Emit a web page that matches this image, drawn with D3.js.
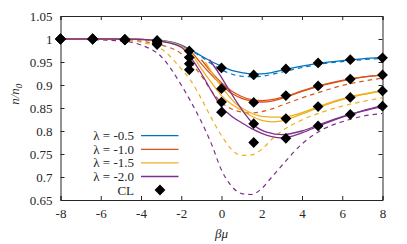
<!DOCTYPE html>
<html>
<head>
<meta charset="utf-8">
<script src="https://cdn.jsdelivr.net/npm/d3@7"></script>
<style>
  body { margin: 0; background: #fff; }
</style>
</head>
<body>
<svg id="chart"></svg>
<script>
// grid for the full curves (beta*mu)
const gridX = [-8, -5, -4, -3, -2, -1.5, -1, -0.5, 0, 0.5, 1, 1.5, 2, 2.5, 3, 4, 5, 6, 7, 8];

const blueSolid   = [1, 1, 0.999, 0.997, 0.987, 0.976, 0.963, 0.951, 0.941, 0.932, 0.927, 0.924, 0.924, 0.927, 0.932, 0.941, 0.948, 0.953, 0.957, 0.96];
const blueDash    = [1, 0.999, 0.998, 0.995, 0.984, 0.974, 0.961, 0.946, 0.933, 0.924, 0.919, 0.918, 0.919, 0.923, 0.928, 0.938, 0.946, 0.951, 0.955, 0.958];
const redSolid    = [1, 1, 0.999, 0.996, 0.985, 0.972, 0.946, 0.922, 0.9, 0.882, 0.871, 0.865, 0.863, 0.865, 0.871, 0.886, 0.899, 0.909, 0.917, 0.922];
const redDash     = [1, 0.998, 0.995, 0.987, 0.968, 0.947, 0.92, 0.887, 0.862, 0.848, 0.841, 0.839, 0.842, 0.848, 0.856, 0.872, 0.886, 0.899, 0.908, 0.915];
const yellowSolid = [1, 1, 0.999, 0.996, 0.984, 0.968, 0.935, 0.905, 0.877, 0.858, 0.845, 0.832, 0.823, 0.82, 0.822, 0.837, 0.854, 0.868, 0.879, 0.887];
const yellowDash  = [1, 0.998, 0.993, 0.979, 0.935, 0.908, 0.87, 0.828, 0.79, 0.76, 0.747, 0.748, 0.76, 0.782, 0.8, 0.824, 0.841, 0.854, 0.864, 0.872];
const purpleSolid = [1, 1, 0.999, 0.995, 0.982, 0.958, 0.925, 0.887, 0.853, 0.832, 0.818, 0.805, 0.795, 0.788, 0.785, 0.796, 0.814, 0.83, 0.843, 0.853];
const purpleDash  = [1, 0.996, 0.987, 0.962, 0.9, 0.862, 0.82, 0.772, 0.715, 0.68, 0.664, 0.662, 0.675, 0.7, 0.725, 0.772, 0.803, 0.82, 0.832, 0.838];

// second solid branches that start near beta*mu = 0
const red2X    = [-1, -0.5, 0, 0.5, 1, 1.5, 2, 3, 4, 5, 6, 7, 8];
const red2Y    = [0.955, 0.928, 0.905, 0.887, 0.875, 0.868, 0.866, 0.873, 0.887, 0.9, 0.91, 0.917, 0.922];
const yellow2X = [-0.8, -0.3, 0.2, 0.7, 1.2, 2, 3, 4, 5, 6, 7, 8];
const yellow2Y = [0.95, 0.915, 0.885, 0.86, 0.845, 0.832, 0.83, 0.84, 0.856, 0.87, 0.88, 0.888];
const purple2X = [-0.6, -0.2, 0.3, 0.8, 1.2, 1.7, 2.3, 3, 4, 5, 6, 7, 8];
const purple2Y = [0.955, 0.93, 0.895, 0.86, 0.835, 0.81, 0.797, 0.792, 0.8, 0.816, 0.831, 0.844, 0.855];

// CL points
const clX = [-8, -6.4, -4.8, -3.2, -1.6, 0, 1.6, 3.2, 4.8, 6.4, 8];
const clA = [1, 1, 0.999, 0.997, 0.974, 0.937, 0.922, 0.935, 0.948, 0.955, 0.959];
const clB = [1, 1, 0.999, 0.994, 0.960, 0.892, 0.862, 0.877, 0.898, 0.913, 0.922];
const clC = [1, 1, 0.998, 0.991, 0.946, 0.863, 0.816, 0.827, 0.853, 0.873, 0.887];
const clD = [1, 1, 0.998, 0.988, 0.933, 0.841, 0.775, 0.784, 0.811, 0.836, 0.854];

const legendLabels = ["λ = -0.5", "λ = -1.0", "λ = -1.5", "λ = -2.0"];
const colors = ["#0072BD", "#D95319", "#EDB120", "#7E2F8E"];
const xTicks = [-8, -6, -4, -2, 0, 2, 4, 6, 8];
const yTicks = [0.65, 0.7, 0.75, 0.8, 0.85, 0.9, 0.95, 1, 1.05];

const FONT = "'Liberation Serif', 'Times New Roman', 'DejaVu Serif', serif";
const width = 407, height = 244;
const margin = {top: 16, right: 24.5, bottom: 44, left: 60.5};

const svg = d3.select("#chart")
    .attr("width", width)
    .attr("height", height)
    .attr("font-family", FONT);

const x = d3.scaleLinear().domain([-8, 8]).range([margin.left, width - margin.right]);
const y = d3.scaleLinear().domain([0.65, 1.05]).range([height - margin.bottom, margin.top]);

svg.append("defs").append("clipPath").attr("id", "clip")
  .append("rect")
    .attr("x", margin.left).attr("y", margin.top)
    .attr("width", x(8) - x(-8)).attr("height", y(0.65) - y(1.05));

const line = d3.line()
    .x(d => x(d[0]))
    .y(d => y(d[1]))
    .curve(d3.curveMonotoneX);

const series = [
  {xs: gridX, ys: blueDash, c: 0, dash: true},
  {xs: gridX, ys: redDash, c: 1, dash: true},
  {xs: gridX, ys: yellowDash, c: 2, dash: true},
  {xs: gridX, ys: purpleDash, c: 3, dash: true},
  {xs: gridX, ys: blueSolid, c: 0},
  {xs: gridX, ys: redSolid, c: 1},
  {xs: red2X, ys: red2Y, c: 1},
  {xs: gridX, ys: yellowSolid, c: 2},
  {xs: yellow2X, ys: yellow2Y, c: 2},
  {xs: gridX, ys: purpleSolid, c: 3},
  {xs: purple2X, ys: purple2Y, c: 3},
];

const curves = svg.append("g").attr("clip-path", "url(#clip)");
series.forEach(s => {
  curves.append("path")
      .attr("fill", "none")
      .attr("stroke", colors[s.c])
      .attr("stroke-width", s.dash ? 1.2 : 1.3)
      .attr("stroke-dasharray", s.dash ? "4.5,4" : null)
      .attr("d", line(d3.zip(s.xs, s.ys)));
});

// axes (ticks inward, mirrored)
const fmt = d => String(+d.toFixed(2));
svg.append("g")
    .attr("transform", `translate(0,${y(0.65)})`)
    .call(d3.axisBottom(x).tickValues(xTicks).tickSize(-4).tickPadding(9).tickFormat(d => String(d)));
svg.append("g")
    .attr("transform", `translate(0,${y(1.05)})`)
    .call(d3.axisTop(x).tickValues(xTicks).tickSize(-4).tickFormat(""));
svg.append("g")
    .attr("transform", `translate(${x(-8)},0)`)
    .call(d3.axisLeft(y).tickValues(yTicks).tickSize(-4).tickPadding(8).tickFormat(fmt));
svg.append("g")
    .attr("transform", `translate(${x(8)},0)`)
    .call(d3.axisRight(y).tickValues(yTicks).tickSize(-4).tickFormat(""));
svg.selectAll("g").attr("font-family", FONT).attr("font-size", 13);
svg.selectAll(".domain").attr("stroke", "#262626");
svg.selectAll(".tick line").attr("stroke", "#262626");
svg.selectAll(".tick text").attr("fill", "#262626");

// CL markers
const diamond = d3.symbol().type(d3.symbolSquare).size(58);
const clAll = [clA, clB, clC, clD];
clAll.forEach(ys => {
  svg.append("g").selectAll("path")
    .data(d3.zip(clX, ys))
    .join("path")
      .attr("d", diamond)
      .attr("fill", "#000")
      .attr("transform", d => `translate(${x(d[0])},${y(d[1])}) rotate(45)`);
});

// axis labels
svg.append("text")
    .attr("x", x(0))
    .attr("y", 238)
    .attr("text-anchor", "middle")
    .attr("font-size", 13)
    .attr("font-style", "italic")
    .attr("fill", "#262626")
    .text("βμ");

const yl = svg.append("text")
    .attr("transform", `translate(19,${y(0.88)}) rotate(-90)`)
    .attr("text-anchor", "middle")
    .attr("font-size", 13)
    .attr("font-style", "italic")
    .attr("fill", "#262626");
yl.append("tspan").text("n/n");
yl.append("tspan").attr("font-size", 9).attr("dy", 3).text("0");

// legend
const legendY = [135.7, 149.3, 162.9, 176.5];
legendLabels.forEach((t, i) => {
  svg.append("text")
      .attr("x", 134)
      .attr("y", legendY[i])
      .attr("dy", "0.35em")
      .attr("text-anchor", "end")
      .attr("font-size", 13)
      .attr("fill", "#262626")
      .text(t);
  svg.append("line")
      .attr("x1", 141).attr("x2", 178.5)
      .attr("y1", legendY[i]).attr("y2", legendY[i])
      .attr("stroke", colors[i])
      .attr("stroke-width", 1.3);
});
svg.append("text")
    .attr("x", 134)
    .attr("y", 190)
    .attr("dy", "0.35em")
    .attr("text-anchor", "end")
    .attr("font-size", 13)
    .attr("fill", "#262626")
    .text("CL");
svg.append("path")
    .attr("d", diamond)
    .attr("fill", "#000")
    .attr("transform", "translate(160,190) rotate(45)");
</script>
</body>
</html>
